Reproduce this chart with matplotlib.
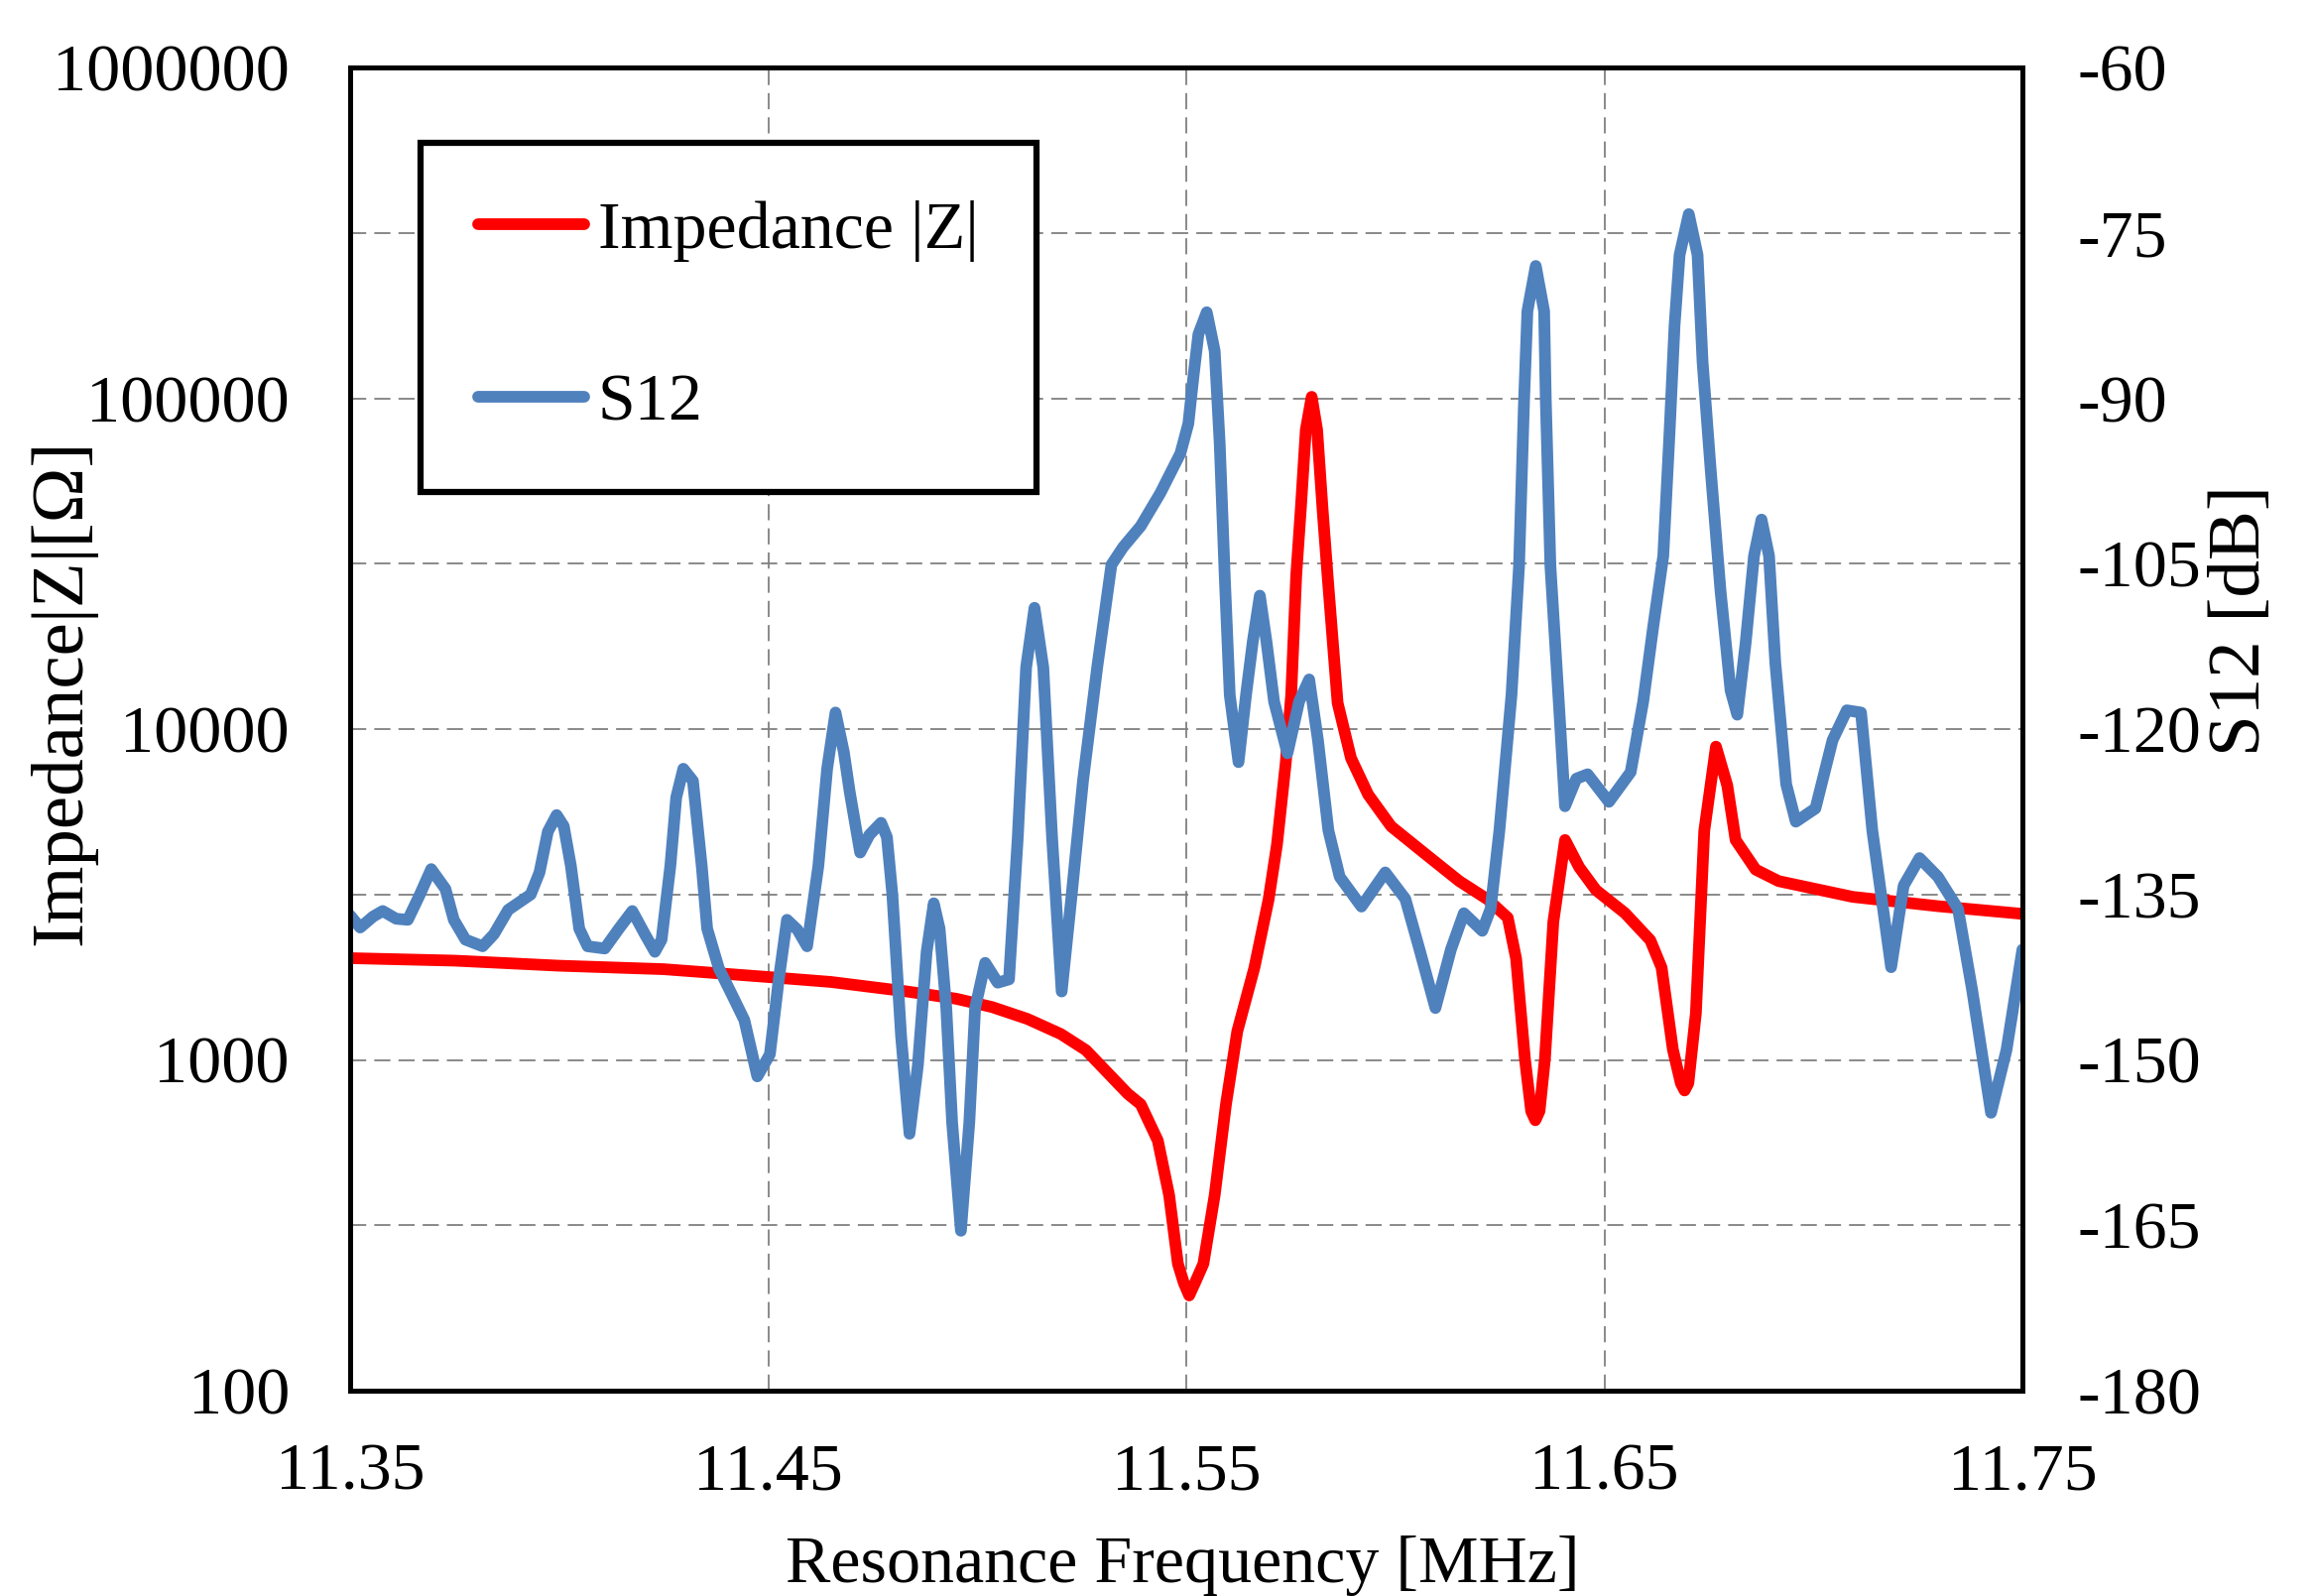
import numpy as np
import matplotlib
matplotlib.use("Agg")
from matplotlib import pyplot as plt
from matplotlib.ticker import FixedLocator, NullFormatter

plt.rcParams['font.family'] = ['Liberation Serif', 'DejaVu Serif']

# impedance |Z| (ohm) vs frequency (MHz)
z_freq = [11.3500, 11.3750, 11.4000, 11.4250, 11.4500, 11.4650, 11.4830, 11.4950,
          11.5035, 11.5120, 11.5200, 11.5260, 11.5308, 11.5360, 11.5391, 11.5432,
          11.5459, 11.5480, 11.5494, 11.5507, 11.5521, 11.5541, 11.5568, 11.5595,
          11.5622, 11.5663, 11.5697, 11.5717, 11.5738, 11.5751, 11.5763, 11.5774,
          11.5786, 11.5800, 11.5813, 11.5826, 11.5838, 11.5862, 11.5894, 11.5935,
          11.5990, 11.6071, 11.6153, 11.6221, 11.6269, 11.6289, 11.6310, 11.6325,
          11.6335, 11.6345, 11.6358, 11.6378, 11.6406, 11.6440, 11.6480, 11.6549,
          11.6610, 11.6637, 11.6664, 11.6683, 11.6692, 11.6701, 11.6719, 11.6739,
          11.6767, 11.6794, 11.6814, 11.6862, 11.6917, 11.7094, 11.7298, 11.7500]
z_ohm = [2030, 1995, 1926, 1880, 1780, 1720, 1611, 1530,
         1445, 1330, 1197, 1070, 925, 790, 734, 570,
         390, 242, 212, 194, 212, 242, 390, 734,
         1219, 1900, 3055, 4475, 7910, 12700, 29100, 46300,
         80300, 101000, 80300, 46300, 29100, 12000, 8170, 6340,
         5080, 4200, 3470, 3055, 2690, 2023, 1009, 700,
         657, 700, 1009, 2610, 4620, 3820, 3260, 2780,
         2300, 1900, 1074, 850, 808, 850, 1384, 4920,
         8850, 6760, 4620, 3760, 3470, 3110, 2915, 2763]

# S12 (dB) vs frequency (MHz)
s_freq = [11.3500, 11.3524, 11.3555, 11.3578, 11.3610, 11.3638, 11.3667, 11.3694,
          11.3728, 11.3748, 11.3776, 11.3817, 11.3844, 11.3878, 11.3932, 11.3953,
          11.3973, 11.3994, 11.4011, 11.4028, 11.4048, 11.4068, 11.4109, 11.4143,
          11.4175, 11.4205, 11.4229, 11.4245, 11.4266, 11.4280, 11.4297, 11.4320,
          11.4341, 11.4354, 11.4382, 11.4416, 11.4443, 11.4474, 11.4504, 11.4525,
          11.4545, 11.4570, 11.4593, 11.4620, 11.4641, 11.4661, 11.4681, 11.4695,
          11.4720, 11.4742, 11.4770, 11.4784, 11.4797, 11.4818, 11.4838, 11.4858,
          11.4879, 11.4896, 11.4910, 11.4926, 11.4940, 11.4961, 11.4981, 11.4995,
          11.5019, 11.5049, 11.5076, 11.5097, 11.5117, 11.5137, 11.5158, 11.5179,
          11.5202, 11.5226, 11.5253, 11.5287, 11.5321, 11.5349, 11.5391, 11.5438,
          11.5486, 11.5505, 11.5517, 11.5529, 11.5549, 11.5568, 11.5580, 11.5592,
          11.5604, 11.5625, 11.5643, 11.5659, 11.5676, 11.5692, 11.5710, 11.5742,
          11.5770, 11.5794, 11.5815, 11.5840, 11.5867, 11.5919, 11.5976, 11.6024,
          11.6058, 11.6096, 11.6133, 11.6164, 11.6208, 11.6228, 11.6249, 11.6278,
          11.6296, 11.6308, 11.6316, 11.6336, 11.6356, 11.6360, 11.6371, 11.6391,
          11.6406, 11.6433, 11.6460, 11.6511, 11.6563, 11.6593, 11.6617, 11.6641,
          11.6656, 11.6668, 11.6680, 11.6702, 11.6723, 11.6735, 11.6754, 11.6778,
          11.6802, 11.6818, 11.6838, 11.6858, 11.6876, 11.6894, 11.6909, 11.6935,
          11.6958, 11.7005, 11.7046, 11.7080, 11.7114, 11.7141, 11.7186, 11.7216,
          11.7254, 11.7298, 11.7346, 11.7380, 11.7425, 11.7462, 11.7500]
s_db = [-136.9, -138.0, -137.0, -136.5, -137.2, -137.3, -135.0, -132.7,
        -134.5, -137.3, -139.1, -139.7, -138.6, -136.4, -135.0, -133.0,
        -129.3, -127.8, -128.8, -132.4, -138.1, -139.7, -139.9, -138.1,
        -136.5, -138.6, -140.2, -139.1, -132.4, -126.2, -123.6, -124.7,
        -132.4, -138.1, -141.7, -144.3, -146.4, -151.5, -149.5, -142.8,
        -137.3, -138.2, -139.7, -132.4, -123.6, -118.5, -122.1, -125.7,
        -131.2, -129.6, -128.5, -129.8, -135.0, -147.9, -156.7, -150.5,
        -140.2, -135.8, -138.1, -145.3, -155.7, -165.5, -155.7, -145.3,
        -141.2, -143.0, -142.7, -129.8, -114.4, -109.0, -114.4, -129.8,
        -143.8, -135.0, -124.7, -114.4, -105.1, -103.5, -101.6, -98.6,
        -95.0, -92.3, -88.1, -84.2, -82.2, -85.7, -94.1, -106.1,
        -116.9, -123.0, -116.9, -112.1, -107.9, -112.1, -117.5, -122.2,
        -117.5, -115.5, -121.0, -129.2, -133.4, -136.1, -133.0, -135.4,
        -140.0, -145.3, -140.0, -136.7, -138.3, -136.3, -129.2, -116.9,
        -105.2, -90.2, -82.1, -78.0, -82.1, -90.2, -105.2, -117.5,
        -127.0, -124.5, -124.1, -126.6, -123.9, -117.5, -110.7, -104.3,
        -93.1, -83.4, -77.0, -73.3, -77.0, -86.7, -96.3, -107.5,
        -116.5, -118.7, -112.2, -104.3, -101.0, -104.3, -114.0, -125.0,
        -128.4, -127.2, -121.0, -118.3, -118.5, -129.2, -141.6, -134.2,
        -131.7, -133.4, -136.3, -143.7, -154.8, -149.1, -140.0]

x_ticks = [11.35, 11.45, 11.55, 11.65, 11.75]
x_labels = ['11.35', '11.45', '11.55', '11.65', '11.75']
z_ticks = [100, 1000, 10000, 100000, 1000000]
z_labels = ['100', '1000', '10000', '100000', '1000000']
db_ticks = [-180, -165, -150, -135, -120, -105, -90, -75, -60]

fig = plt.figure(figsize=(23.33, 16.09), dpi=100)
ax = fig.add_axes([353/2333, 1 - 1402/1609, (2039-353)/2333, (1402-68)/1609])
ax2 = ax.twinx()

red, = ax.plot(z_freq, z_ohm, color='#ff0000', lw=8.5, solid_joinstyle='round',
               solid_capstyle='round', label='Impedance |Z|')
blue, = ax2.plot(s_freq, s_db, color='#4f81bd', lw=8.5, solid_joinstyle='round',
                 solid_capstyle='round', label='S12')

ax.set_yscale('log')
ax.set_xlim(11.35, 11.75)
ax.set_ylim(100, 1000000)
ax2.set_ylim(-180, -60)

ax.set_xticks(x_ticks)
ax.set_xticklabels(x_labels)
ax.yaxis.set_major_locator(FixedLocator(z_ticks))
ax.set_yticklabels(z_labels)
# half-decade lines line up with the 15 dB steps of the right axis
ax.yaxis.set_minor_locator(FixedLocator([10**2.5, 10**3.5, 10**4.5, 10**5.5]))
ax.yaxis.set_minor_formatter(NullFormatter())
ax2.set_yticks(db_ticks)
ax2.set_yticklabels([str(v) for v in db_ticks])

ax.grid(True, which='both', axis='y', color='#808080', ls=(0, (9, 4.5)), lw=1.3)
ax.grid(True, which='major', axis='x', color='#808080', ls=(0, (9, 4.5)), lw=1.3)

ax.tick_params(axis='x', length=0, pad=38, labelsize=49)
ax.tick_params(axis='y', which='both', length=0, pad=44, labelsize=49)
ax2.tick_params(axis='y', length=0, pad=40, labelsize=49)

for a in (ax, ax2):
    for sp in a.spines.values():
        sp.set_linewidth(3.5)
        sp.set_color('black')

fig.text(63/2333, 1 - 698/1609, 'Impedance|Z|[\u03a9]', rotation=90,
         ha='center', va='center', fontsize=54)
fig.text(2260/2333, 1 - 626/1609, 'S12 [dB]', rotation=90,
         ha='center', va='center', fontsize=54)
fig.text(1192/2333, 1 - 1548/1609, 'Resonance Frequency [MHz]',
         ha='center', va='top', fontsize=49)

leg = ax2.legend([red, blue], ['Impedance |Z|', 'S12'], loc='upper left',
                 bbox_to_anchor=(0.042, 0.943), borderaxespad=0, fontsize=49,
                 handlelength=1.58, handletextpad=0.2, labelspacing=1.65,
                 borderpad=0.85, fancybox=False, framealpha=1)
leg.get_frame().set_edgecolor('black')
leg.get_frame().set_linewidth(4.5)

fig.savefig('out.png', dpi=100, facecolor='white')
